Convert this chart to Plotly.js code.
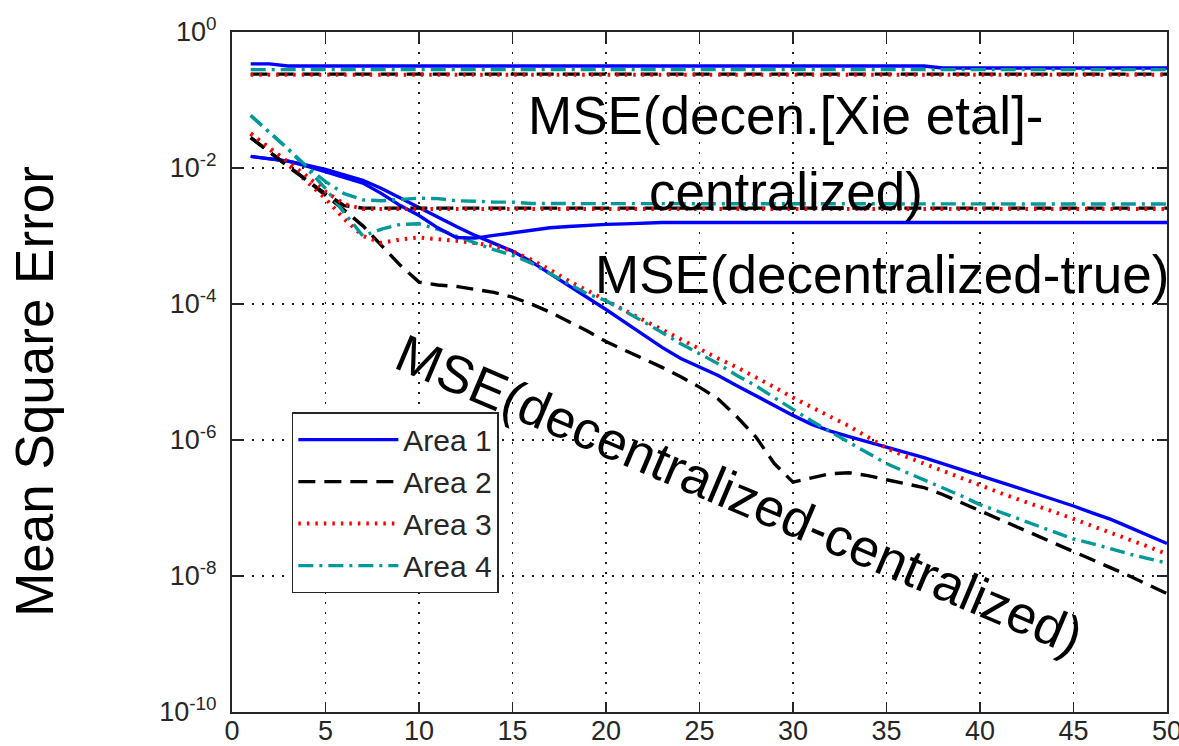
<!DOCTYPE html>
<html>
<head>
<meta charset="utf-8">
<script src="https://cdn.plot.ly/plotly-3.0.1.min.js"></script>
<style>html,body{margin:0;padding:0;background:#fff;}#chart{width:1179px;height:746px;}</style>
</head>
<body>
<div id="chart"></div>
<script>
// Iteration index
var iterations = [1,2,3,4,5,6,7,8,9,10,11,12,13,14,15,16,17,18,19,20,21,22,23,24,25,26,27,28,29,30,31,32,33,34,35,36,37,38,39,40,41,42,43,44,45,46,47,48,49,50];

// MSE(decen.[Xie etal]-centralized)
var xieArea1 = [0.34,0.34,0.316,0.316,0.316,0.316,0.316,0.316,0.316,0.316,0.316,0.316,0.316,0.316,0.316,0.316,0.316,0.316,0.316,0.316,0.316,0.316,0.316,0.316,0.316,0.316,0.316,0.316,0.316,0.316,0.316,0.316,0.316,0.316,0.316,0.316,0.316,0.295,0.295,0.295,0.295,0.295,0.295,0.295,0.295,0.295,0.295,0.295,0.295,0.295];
var xieArea2 = [0.24,0.24,0.24,0.24,0.24,0.24,0.24,0.24,0.24,0.24,0.24,0.24,0.24,0.24,0.24,0.24,0.24,0.24,0.24,0.24,0.24,0.24,0.24,0.24,0.24,0.24,0.24,0.24,0.24,0.24,0.24,0.24,0.24,0.24,0.24,0.24,0.24,0.24,0.24,0.24,0.24,0.24,0.24,0.24,0.24,0.24,0.24,0.24,0.24,0.24];
var xieArea3 = [0.235,0.235,0.235,0.235,0.235,0.235,0.235,0.235,0.235,0.235,0.235,0.235,0.235,0.235,0.235,0.235,0.235,0.235,0.235,0.235,0.235,0.235,0.235,0.235,0.235,0.235,0.235,0.235,0.235,0.235,0.235,0.235,0.235,0.235,0.235,0.235,0.235,0.235,0.235,0.235,0.235,0.235,0.235,0.235,0.235,0.235,0.235,0.235,0.235,0.235];
var xieArea4 = [0.28,0.28,0.28,0.28,0.28,0.28,0.28,0.28,0.28,0.28,0.28,0.28,0.28,0.28,0.28,0.28,0.28,0.28,0.28,0.28,0.28,0.28,0.28,0.28,0.28,0.28,0.28,0.28,0.28,0.28,0.28,0.28,0.28,0.28,0.28,0.28,0.28,0.28,0.28,0.28,0.28,0.28,0.28,0.28,0.28,0.28,0.28,0.28,0.28,0.28];

// MSE(decentralized-true)
var trueArea1 = [1.48e-2,1.38e-2,1.26e-2,1.07e-2,8.9e-3,7.4e-3,6.0e-3,4.2e-3,2.8e-3,2.0e-3,1.32e-3,9.5e-4,9.3e-4,1.02e-3,1.12e-3,1.23e-3,1.32e-3,1.38e-3,1.45e-3,1.48e-3,1.51e-3,1.55e-3,1.58e-3,1.58e-3,1.58e-3,1.58e-3,1.58e-3,1.58e-3,1.58e-3,1.58e-3,1.58e-3,1.58e-3,1.58e-3,1.58e-3,1.58e-3,1.58e-3,1.58e-3,1.58e-3,1.58e-3,1.58e-3,1.58e-3,1.58e-3,1.58e-3,1.58e-3,1.58e-3,1.58e-3,1.58e-3,1.58e-3,1.58e-3,1.58e-3];
var trueArea2 = [2.8e-2,1.7e-2,1.05e-2,6.6e-3,4.2e-3,2.8e-3,2.57e-3,2.57e-3,2.57e-3,2.57e-3,2.57e-3,2.57e-3,2.57e-3,2.57e-3,2.57e-3,2.57e-3,2.57e-3,2.57e-3,2.57e-3,2.57e-3,2.57e-3,2.57e-3,2.57e-3,2.57e-3,2.57e-3,2.57e-3,2.57e-3,2.57e-3,2.57e-3,2.57e-3,2.57e-3,2.57e-3,2.57e-3,2.57e-3,2.57e-3,2.57e-3,2.57e-3,2.57e-3,2.57e-3,2.57e-3,2.57e-3,2.57e-3,2.57e-3,2.57e-3,2.57e-3,2.57e-3,2.57e-3,2.57e-3,2.57e-3,2.57e-3];
var trueArea3 = [3.2e-2,2.0e-2,1.2e-2,7.6e-3,4.5e-3,2.95e-3,2.5e-3,2.5e-3,2.5e-3,2.5e-3,2.5e-3,2.5e-3,2.5e-3,2.5e-3,2.5e-3,2.5e-3,2.5e-3,2.5e-3,2.5e-3,2.5e-3,2.5e-3,2.5e-3,2.5e-3,2.5e-3,2.5e-3,2.5e-3,2.5e-3,2.5e-3,2.5e-3,2.5e-3,2.5e-3,2.5e-3,2.5e-3,2.5e-3,2.5e-3,2.5e-3,2.5e-3,2.5e-3,2.5e-3,2.5e-3,2.5e-3,2.5e-3,2.5e-3,2.5e-3,2.5e-3,2.5e-3,2.5e-3,2.5e-3,2.5e-3,2.5e-3];
var trueArea4 = [5.9e-2,3.4e-2,1.9e-2,1.05e-2,6.3e-3,4.2e-3,3.4e-3,3.3e-3,3.45e-3,3.6e-3,3.55e-3,3.3e-3,3.25e-3,3.15e-3,3.15e-3,3.0e-3,3.0e-3,3.0e-3,2.95e-3,2.95e-3,2.95e-3,2.95e-3,2.95e-3,2.95e-3,2.95e-3,2.95e-3,2.95e-3,2.95e-3,2.95e-3,2.95e-3,2.95e-3,2.95e-3,2.95e-3,2.95e-3,2.95e-3,2.95e-3,2.95e-3,2.95e-3,2.95e-3,2.95e-3,2.95e-3,2.95e-3,2.95e-3,2.95e-3,2.95e-3,2.95e-3,2.95e-3,2.95e-3,2.95e-3,2.95e-3];

// MSE(decentralized-centralized)
var cenArea1 = [1.48e-2,1.38e-2,1.26e-2,1.10e-2,9.5e-3,7.9e-3,6.6e-3,5.0e-3,3.6e-3,2.6e-3,1.9e-3,1.38e-3,1.02e-3,7.9e-4,6.0e-4,4.2e-4,2.8e-4,1.9e-4,1.26e-4,8.3e-5,5.4e-5,3.5e-5,2.3e-5,1.58e-5,1.17e-5,8.9e-6,6.3e-6,4.5e-6,3.2e-6,2.3e-6,1.7e-6,1.35e-6,1.12e-6,9.3e-7,7.9e-7,6.6e-7,5.5e-7,4.5e-7,3.7e-7,3.0e-7,2.5e-7,2.0e-7,1.62e-7,1.32e-7,1.07e-7,8.5e-8,6.8e-8,5.2e-8,4.0e-8,3.0e-8];
var cenArea2 = [2.8e-2,1.7e-2,1.07e-2,6.6e-3,4.0e-3,2.4e-3,1.41e-3,7.2e-4,3.7e-4,2.1e-4,1.9e-4,1.82e-4,1.66e-4,1.48e-4,1.26e-4,1.0e-4,7.6e-5,5.6e-5,4.0e-5,2.8e-5,2.1e-5,1.58e-5,1.17e-5,8.5e-6,6.0e-6,4.0e-6,2.2e-6,1.12e-6,4.5e-7,2.4e-7,2.8e-7,3.2e-7,3.3e-7,3.0e-7,2.6e-7,2.3e-7,2.0e-7,1.58e-7,1.2e-7,9.1e-8,6.9e-8,5.2e-8,4.0e-8,3.0e-8,2.3e-8,1.74e-8,1.32e-8,1.0e-8,7.4e-9,5.5e-9];
var cenArea3 = [3.2e-2,1.9e-2,1.12e-2,6.3e-3,3.55e-3,1.78e-3,1.0e-3,7.9e-4,8.9e-4,9.5e-4,9.1e-4,8.5e-4,7.9e-4,7.1e-4,6.0e-4,4.5e-4,3.2e-4,2.2e-4,1.58e-4,1.12e-4,7.9e-5,5.8e-5,4.2e-5,3.0e-5,2.2e-5,1.58e-5,1.17e-5,8.5e-6,6.0e-6,4.2e-6,3.0e-6,2.2e-6,1.6e-6,1.1e-6,7.6e-7,5.75e-7,4.5e-7,3.5e-7,2.7e-7,2.1e-7,1.7e-7,1.35e-7,1.1e-7,8.7e-8,6.9e-8,5.5e-8,4.4e-8,3.5e-8,2.7e-8,2.1e-8];
var cenArea4 = [5.9e-2,3.4e-2,1.9e-2,1.0e-2,5.0e-3,2.2e-3,1.0e-3,1.26e-3,1.48e-3,1.51e-3,1.26e-3,1.0e-3,7.9e-4,6.3e-4,5.2e-4,4.0e-4,2.8e-4,2.0e-4,1.41e-4,1.12e-4,7.9e-5,5.5e-5,3.8e-5,2.6e-5,1.86e-5,1.32e-5,8.9e-6,6.3e-6,4.2e-6,2.8e-6,1.9e-6,1.32e-6,9.3e-7,6.6e-7,4.5e-7,3.4e-7,2.6e-7,2.0e-7,1.51e-7,1.12e-7,8.9e-8,7.1e-8,5.6e-8,4.5e-8,3.5e-8,3.0e-8,2.5e-8,2.1e-8,1.8e-8,1.55e-8];

var areaNames = ['Area 1','Area 2','Area 3','Area 4'];
var xTicks = [0,5,10,15,20,25,30,35,40,45,50];
var yTickVals = [1,1e-2,1e-4,1e-6,1e-8,1e-10];
var yTickText = ['10<sup>0</sup>','10<sup>-2</sup>','10<sup>-4</sup>','10<sup>-6</sup>','10<sup>-8</sup>','10<sup>-10</sup>'];
var yTitle = 'Mean Square Error';

var areaStyles = [
  {color:'#0000ff', dash:'solid', width:3.4},
  {color:'#000000', dash:'17px,9px', width:3.4},
  {color:'#ff0000', dash:'2.5px,6px', width:4},
  {color:'#00999a', dash:'15px,6px,3px,6px', width:3.4}
];

var groups = [
  [cenArea1, cenArea2, cenArea3, cenArea4],
  [trueArea1, trueArea2, trueArea3, trueArea4],
  [xieArea1, xieArea2, xieArea3, xieArea4]
];

var traces = [];
groups.forEach(function(group, gi){
  group.forEach(function(vals, ai){
    traces.push({
      x: iterations, y: vals, type: 'scatter', mode: 'lines',
      name: areaNames[ai], legendgroup: areaNames[ai], showlegend: gi === 0,
      line: {color: areaStyles[ai].color, dash: areaStyles[ai].dash, width: areaStyles[ai].width}
    });
  });
});

var fontFam = 'Liberation Sans, Arial, Helvetica, sans-serif';
var axisCommon = {
  showline: true, linecolor: '#262626', linewidth: 2, mirror: 'ticks',
  ticks: 'inside', ticklen: 10, tickwidth: 1.5, tickcolor: '#262626',
  showgrid: true, gridcolor: '#1a1a1a', gridwidth: 1.6, griddash: '2px,8px',
  zeroline: false, ticklabeloverflow: 'allow',
  tickfont: {family: fontFam, size: 27, color: '#262626'}
};

var layout = {
  width: 1179, height: 746,
  margin: {l: 232, r: 12, t: 32, b: 34},
  paper_bgcolor: '#ffffff', plot_bgcolor: '#ffffff',
  font: {family: fontFam, color: '#000'},
  showlegend: true,
  legend: {
    x: 0.064, y: 0.441, xanchor: 'left', yanchor: 'top',
    bgcolor: '#ffffff', bordercolor: '#262626', borderwidth: 1.5,
    font: {family: fontFam, size: 30, color: '#262626'},
    itemwidth: 100, tracegroupgap: 0
  },
  xaxis: Object.assign({}, axisCommon, {
    range: [0, 50], tickvals: xTicks, ticklabelstandoff: -6
  }),
  yaxis: Object.assign({}, axisCommon, {
    type: 'log', range: [-10, 0], tickvals: yTickVals, ticktext: yTickText,
    ticklabelstandoff: 8
  }),
  annotations: [
    {xref:'paper', yref:'paper', x:-0.212, y:0.472, xanchor:'center', yanchor:'middle', showarrow:false,
     textangle: -90, text: yTitle, font:{family:fontFam, size:53, color:'#000'}},
    {xref:'paper', yref:'paper', x:0.5925, y:0.877, xanchor:'center', yanchor:'middle', showarrow:false,
     text:'MSE(decen.[Xie etal]-', font:{family:fontFam, size:53, color:'#000'}},
    {xref:'paper', yref:'paper', x:0.5925, y:0.766, xanchor:'center', yanchor:'middle', showarrow:false,
     text:'centralized)', font:{family:fontFam, size:53, color:'#000'}},
    {xref:'paper', yref:'paper', x:0.695, y:0.644, xanchor:'center', yanchor:'middle', showarrow:false,
     text:'MSE(decentralized-true)', font:{family:fontFam, size:53, color:'#000'}},
    {xref:'paper', yref:'paper', x:0.543, y:0.32, xanchor:'center', yanchor:'middle', showarrow:false,
     textangle: 23,
     text:'MSE(decentralized-centralized)', font:{family:fontFam, size:53, color:'#000'}}
  ]
};

Plotly.newPlot('chart', traces, layout, {displayModeBar: false, staticPlot: true});
</script>
</body>
</html>
